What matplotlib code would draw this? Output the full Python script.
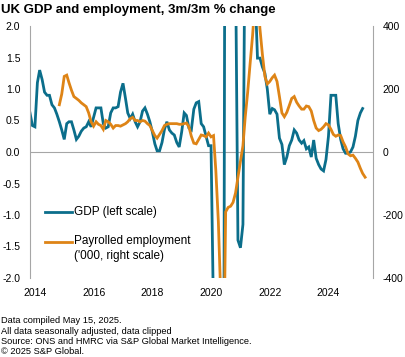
import pandas as pd
import numpy as np
import matplotlib
matplotlib.use("Agg")
import matplotlib.pyplot as plt
from matplotlib.lines import Line2D

plt.rcParams['font.family'] = ['Liberation Sans', 'DejaVu Sans']
plt.rcParams['axes.unicode_minus'] = False

# GDP, 3m/3m % change (left scale), monthly from Nov 2013
gdp = [0.62, 0.42, 0.40, 1.10, 1.30, 1.15, 0.95, 0.90, 0.90, 0.75,
       0.70, 0.60, 0.48, 0.35, 0.20, 0.45, 0.48, 0.48, 0.35, 0.20,
       0.25, 0.33, 0.38, 0.40, 0.48, 0.40, 0.55, 0.70, 0.70, 0.70,
       0.45, 0.38, 0.40, 0.62, 0.70, 0.70, 0.72, 0.95, 1.09, 0.85,
       0.62, 0.53, 0.60, 0.48, 0.40, 0.48, 0.65, 0.70, 0.60, 0.48,
       0.32, 0.13, 0.02, 0.02, 0.15, 0.36, 0.48, 0.35, 0.30, 0.27,
       0.15, 0.08, 0.32, 0.62, 0.58, 0.38, 0.35, 0.68, 0.78, 0.80,
       0.45, 0.40, 0.25, 0.10, 0.10, -2.6, -15.0, -20.0, -18.0, -8.0,
       10.0, 16.0, 12.0, 6.0, 3.0, -1.40, -1.52, -1.15, 4.0, 5.5,
       5.0, 3.5, 2.6, 1.49, 1.49, 1.35, 1.25, 1.00, 0.60, 0.69,
       0.67, 0.60, 0.22, 0.12, -0.20, -0.08, 0.10, 0.19, 0.35, 0.30,
       0.19, 0.14, 0.18, 0.05, 0.08, -0.08, 0.19, -0.10, -0.20, -0.27,
       -0.30, -0.12, 0.25, 0.90, 0.90, 0.90, 0.45, 0.20, 0.05, -0.02,
       -0.02, 0.00, 0.08, 0.25, 0.50, 0.62, 0.69]
gdp_start = "2013-11-01"

# Payrolled employees, 3m/3m change in '000 (right scale), monthly from Nov 2014
payrolls = [150, 184, 240, 244, 220, 196, 176, 170, 164, 156,
            150, 144, 124, 96, 82, 96, 88, 84, 72, 100,
            96, 88, 76, 84, 84, 82, 86, 90, 96, 106,
            110, 100, 100, 96, 100, 98, 90, 84, 68, 52,
            44, 56, 68, 84, 88, 90, 90, 90, 90, 88,
            88, 90, 92, 80, 50, 28, 26, 40, 54, 52,
            48, 60, 48, 52, -60, -220, -460, -800, -190, -176,
            -172, -160, -130, -80, -30, 20, 110, 190, 280, 370,
            480, 500, 390, 310, 240, 216, 224, 236, 244, 224,
            176, 124, 112, 126, 148, 170, 176, 158, 146, 136,
            136, 146, 144, 130, 100, 76, 68, 72, 80, 90,
            86, 72, 56, 50, 54, 52, 32, 16, -6, -12,
            -10, -20, -32, -52, -68, -80]
payrolls_start = "2014-11-01"

years = [2014, 2016, 2018, 2020, 2022, 2024]

teal = "#0b6e8b"
orange = "#de8416"
grey = "#a6a6a6"

gdp_dates = pd.date_range(gdp_start, periods=len(gdp), freq="MS")
pay_dates = pd.date_range(payrolls_start, periods=len(payrolls), freq="MS")

fig = plt.figure(figsize=(4.06, 3.57), dpi=100)
ax = fig.add_axes([30 / 406, 1 - 278 / 357, 343 / 406, 252 / 357])
ax2 = ax.twinx()

# zero line behind the data
ax.axhline(0, color=grey, linewidth=0.8, zorder=0)

ax.plot(gdp_dates, gdp, color=teal, linewidth=2.0, solid_joinstyle="miter")
ax2.plot(pay_dates, payrolls, color=orange, linewidth=2.0, solid_joinstyle="miter")

ax.set_ylim(-2, 2)
ax.set_yticks(np.arange(-2, 2.01, 0.5))
ax.set_yticklabels([f"{v:.1f}" for v in np.arange(-2, 2.01, 0.5)])
ax2.set_ylim(-400, 400)
ax2.set_yticks([-400, -200, 0, 200, 400])

ax.set_xlim(pd.Timestamp("2013-11-01"), pd.Timestamp("2025-07-08"))
ax.set_xticks([pd.Timestamp(f"{y}-01-01") for y in years])
ax.set_xticklabels([str(y) for y in years])

for a in (ax, ax2):
    for s in ("top", "bottom"):
        a.spines[s].set_visible(False)
    a.spines["left"].set_color(grey)
    a.spines["right"].set_color(grey)
    a.spines["left"].set_linewidth(0.8)
    a.spines["right"].set_linewidth(0.8)
ax.spines["right"].set_visible(False)
ax2.spines["left"].set_visible(False)

ax.tick_params(axis="y", length=0, pad=7, labelsize=7.5, colors="black")
ax.tick_params(axis="x", length=0, pad=7, labelsize=7.5)
ax2.tick_params(axis="y", length=0, pad=7, labelsize=7.5)

# legend, drawn by hand so the orange key sits on the first text line
def fy(py):
    return 1 - py / 357

for y, c in [(212, teal), (242, orange)]:
    fig.add_artist(Line2D([45 / 406, 72 / 406], [fy(y), fy(y)], color=c, linewidth=2.0,
                          transform=fig.transFigure))
fig.text(74 / 406, fy(212), "GDP (left scale)", fontsize=8.5, va="center")
fig.text(74 / 406, fy(241), "Payrolled employment", fontsize=8.5, va="center")
fig.text(74 / 406, fy(256), "('000, right scale)", fontsize=8.5, va="center")

fig.text(0.003, fy(13.5), "UK GDP and employment, 3m/3m % change",
         fontsize=9.5, fontweight="bold", va="baseline")

notes = ["Data compiled May 15, 2025.",
         "All data seasonally adjusted, data clipped",
         "Source: ONS and HMRC via S&P Global Market Intelligence.",
         "\u00a9 2025 S&P Global."]
for k, line in enumerate(notes):
    fig.text(0.003, fy(323 + 10.5 * k), line, fontsize=6.7, va="baseline")

fig.savefig("out.png", dpi=100)
